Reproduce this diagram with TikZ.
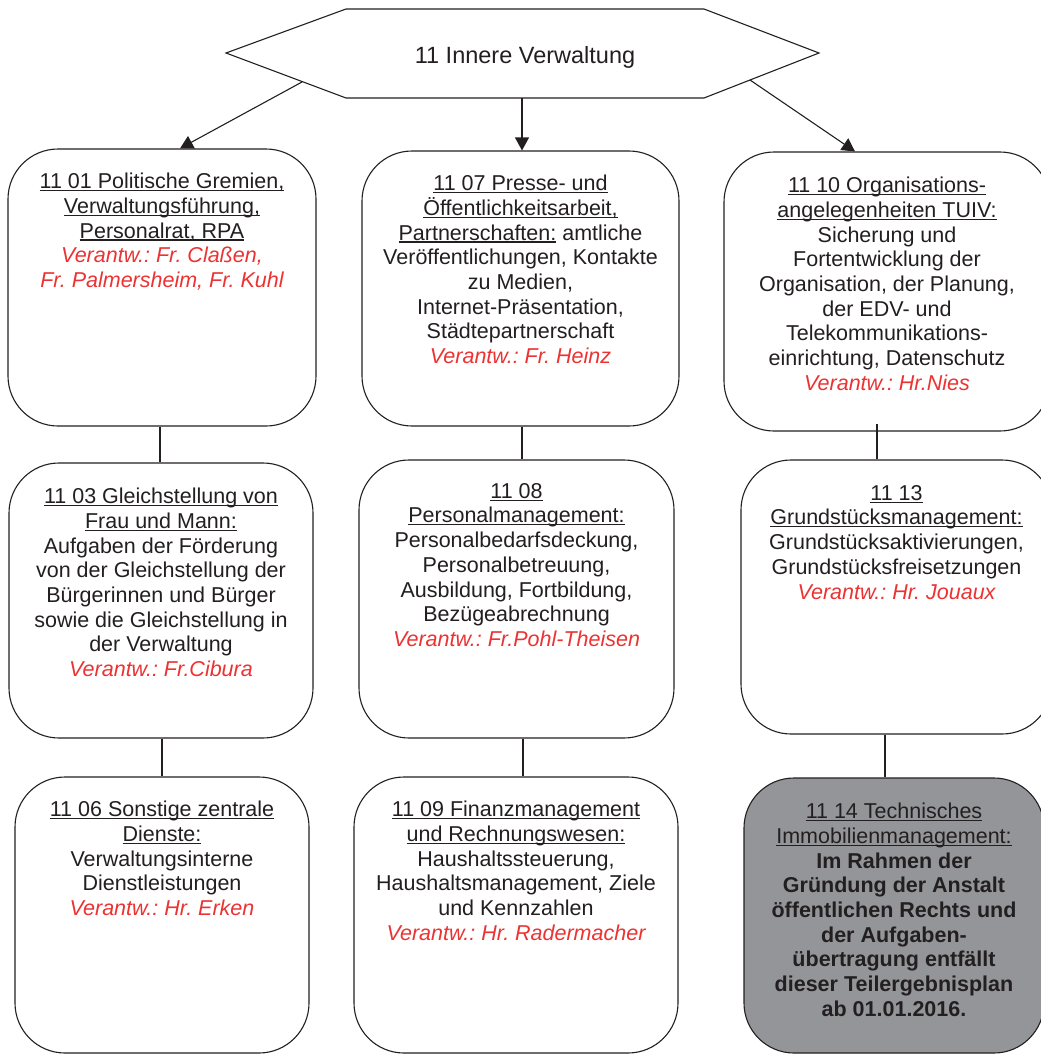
\documentclass[tikz,border=0pt]{standalone}
\usepackage{fontspec}
\setmainfont{Liberation Sans}
\usetikzlibrary{arrows.meta}
\definecolor{ink}{RGB}{35,31,32}
\definecolor{redt}{RGB}{236,50,50}
\definecolor{boxgray}{RGB}{147,149,152}
\newsavebox\ulbox
\newcommand\myul[1]{\sbox\ulbox{#1}\rlap{\rule[-2.5pt]{\wd\ulbox}{1.2pt}}\usebox\ulbox}
\newcommand\resp[1]{\textcolor{redt}{\itshape #1}}
\frenchspacing
\tikzset{
  conn/.style={draw=ink, line width=1.1pt},
  arr/.style={conn, -{Triangle[length=13pt,width=14pt]}},
  boxnode/.style={draw=ink, line width=1.1pt, rounded corners=50pt, fill=white, inner sep=0pt},
  graybox/.style={boxnode, fill=boxgray},
  txt/.style={align=center, inner sep=0pt, anchor=north, text=ink, font=\fontsize{21.5}{24.7}\selectfont},
}
\begin{document}
\begin{tikzpicture}[x=1pt,y=-1pt]
\useasboundingbox (0,0) rectangle (1041,1055);
% top hexagon
\draw[conn] (226,53) -- (346,9) -- (704,9) -- (819,53) -- (704,98) -- (346,98) -- cycle;
\node[inner sep=0pt, text=ink, font=\fontsize{23.5}{27}\selectfont] (top) at (525,57) {11 Innere Verwaltung};
\coordinate (hl) at (302,82);
\coordinate (hm) at (522,98);
\coordinate (hr) at (750,80);
% boxes
\node[boxnode, minimum width=308pt, minimum height=277pt] (b1) at (162,287.5) {};
\node[boxnode, minimum width=317pt, minimum height=275pt] (b2) at (520.5,288.5) {};
\node[boxnode, minimum width=326pt, minimum height=279pt] (b3) at (887,291.5) {};
\node[boxnode, minimum width=304pt, minimum height=275pt] (b4) at (161,600.5) {};
\node[boxnode, minimum width=315pt, minimum height=278pt] (b5) at (516.5,599) {};
\node[boxnode, minimum width=311pt, minimum height=274pt] (b6) at (896.5,597) {};
\node[boxnode, minimum width=294pt, minimum height=276pt] (b7) at (162,915) {};
\node[boxnode, minimum width=324pt, minimum height=276pt] (b8) at (516,915) {};
\node[graybox, minimum width=300pt, minimum height=275pt] (b9) at (894,915.5) {};
% x positions for connectors
\coordinate (xl) at (180,0);
\coordinate (xm) at (522,0);
\coordinate (xr) at (855,0);
\coordinate (x1) at (160,0);
\coordinate (x2) at (522,0);
\coordinate (x3) at (877,0);
\coordinate (x4) at (162,0);
\coordinate (x5) at (523,0);
\coordinate (x6) at (885,0);
% arrows
\draw[arr] (hl) -- (b1.north -| xl);
\draw[arr] (hm) -- (b2.north -| xm);
\draw[arr] (hr) -- (b3.north -| xr);
% connectors
\draw[conn] (b1.south -| x1) -- (b4.north -| x1);
\draw[conn] (b2.south -| x2) -- (b5.north -| x2);
\draw[conn] ([yshift=8pt]b3.south -| x3) -- (b6.north -| x3);
\draw[conn] (b4.south -| x4) -- (b7.north -| x4);
\draw[conn] (b5.south -| x5) -- (b8.north -| x5);
\draw[conn] (b6.south -| x6) -- (b9.north -| x6);
% texts
\node[txt] (t1) at (162,173) {\myul{11 01 Politische Gremien,}\\ \myul{Verwaltungsführung,}\\ \myul{Personalrat, RPA}\\ \resp{Verantw.: Fr. Claßen,}\\ \resp{Fr. Palmersheim, Fr. Kuhl}};
\node[txt] (t2) at (520.5,175) {\myul{11 07 Presse- und}\\ \myul{Öffentlichkeitsarbeit,}\\ \myul{Partnerschaften:} amtliche\\ Veröffentlichungen, Kontakte\\ zu Medien,\\ Internet-Präsentation,\\ Städtepartnerschaft\\ \resp{Verantw.: Fr. Heinz}};
\node[txt] (t3) at (887,177) {\myul{11 10 Organisations-}\\ \myul{angelegenheiten TUIV:}\\ Sicherung und\\ Fortentwicklung der\\ Organisation, der Planung,\\ der EDV- und\\ Telekommunikations-\\ einrichtung, Datenschutz\\ \resp{Verantw.: Hr.Nies}};
\node[txt] (t4) at (161,488) {\myul{11 03 Gleichstellung von}\\ \myul{Frau und Mann:}\\ Aufgaben der Förderung\\ von der Gleichstellung der\\ Bürgerinnen und Bürger\\ sowie die Gleichstellung in\\ der Verwaltung\\ \resp{Verantw.: Fr.Cibura}};
\node[txt] (t5) at (516.5,483) {\myul{11 08}\\ \myul{Personalmanagement:}\\ Personalbedarfsdeckung,\\ Personalbetreuung,\\ Ausbildung, Fortbildung,\\ Bezügeabrechnung\\ \resp{Verantw.: Fr.Pohl-Theisen}};
\node[txt] (t6) at (896.5,485) {\myul{11 13}\\ \myul{Grundstücksmanagement:}\\ Grundstücksaktivierungen,\\ Grundstücksfreisetzungen\\ \resp{Verantw.: Hr. Jouaux}};
\node[txt] (t7) at (162,801) {\myul{11 06 Sonstige zentrale}\\ \myul{Dienste:}\\ Verwaltungsinterne\\ Dienstleistungen\\ \resp{Verantw.: Hr. Erken}};
\node[txt] (t8) at (516,801) {\myul{11 09 Finanzmanagement}\\ \myul{und Rechnungswesen:}\\ Haushaltssteuerung,\\ Haushaltsmanagement, Ziele\\ und Kennzahlen\\ \resp{Verantw.: Hr. Radermacher}};
\node[txt] (t9) at (894,803) {\myul{11 14 Technisches}\\ \myul{Immobilienmanagement:}\\ \textbf{Im Rahmen der}\\ \textbf{Gründung der Anstalt}\\ \textbf{öffentlichen Rechts und}\\ \textbf{der Aufgaben-}\\ \textbf{übertragung entfällt}\\ \textbf{dieser Teilergebnisplan}\\ \textbf{ab 01.01.2016.}};
\end{tikzpicture}
\end{document}
